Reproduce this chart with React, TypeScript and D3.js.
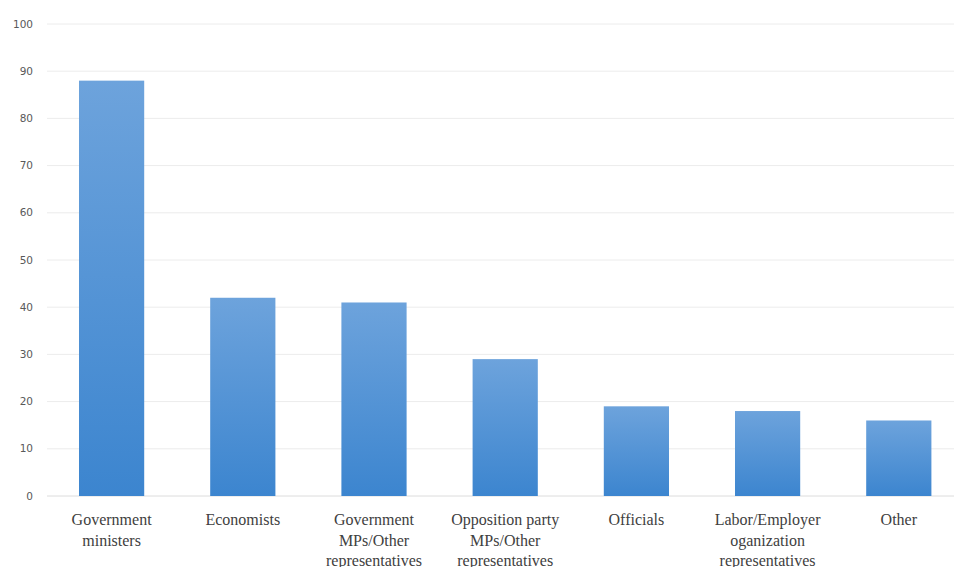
import React from "react";
import * as d3 from "d3";

const categories: string[][] = [
  ["Government", "ministers"],
  ["Economists"],
  ["Government", "MPs/Other", "representatives"],
  ["Opposition party", "MPs/Other", "representatives"],
  ["Officials"],
  ["Labor/Employer", "oganization", "representatives"],
  ["Other"],
];
const values: number[] = [88, 42, 41, 29, 19, 18, 16];
const yTicks: number[] = [0, 10, 20, 30, 40, 50, 60, 70, 80, 90, 100];

const W = 954;
const H = 567;

export default function App() {
  const keys = categories.map((c) => c.join(" "));
  const x = d3.scaleBand<string>().domain(keys).range([46, 964.4]).paddingInner(0.503).paddingOuter(0.2515);
  const y = d3.scaleLinear().domain([0, 100]).range([496, 24]);
  return (
    <svg width={W} height={H} style={{ position: "absolute", left: 0, top: 0, background: "#fff" }}>
      <defs>
        <linearGradient id="barGrad" x1="0" y1="0" x2="0" y2="1">
          <stop offset="0%" stopColor="#6da3dc" />
          <stop offset="100%" stopColor="#3c85cf" />
        </linearGradient>
      </defs>
      {yTicks.map((t) => (
        <g key={t}>
          <line x1={47} x2={W} y1={y(t)} y2={y(t)} stroke={t === 0 ? "#dcdcdc" : "#ececec"} strokeWidth={1} />
          <text x={33} y={y(t)} dy="0.35em" textAnchor="end" style={{ fontFamily: "'DejaVu Sans', sans-serif" }} fontSize={10.5} fill="#595959">
            {t}
          </text>
        </g>
      ))}
      {values.map((v, i) => (
        <rect key={i} x={x(keys[i])} y={y(v)} width={x.bandwidth()} height={y(0) - y(v)} fill="url(#barGrad)" />
      ))}
      {categories.map((lines, i) => (
        <text key={i} textAnchor="middle" style={{ fontFamily: "'Times New Roman', Tinos, 'Noto Serif', FreeSerif, Times, 'Liberation Serif', serif" }} fontSize={16} fill="#404040">
          {lines.map((l, j) => (
            <tspan key={j} x={(x(keys[i]) as number) + x.bandwidth() / 2} y={525 + j * 20.5}>
              {l}
            </tspan>
          ))}
        </text>
      ))}
    </svg>
  );
}
